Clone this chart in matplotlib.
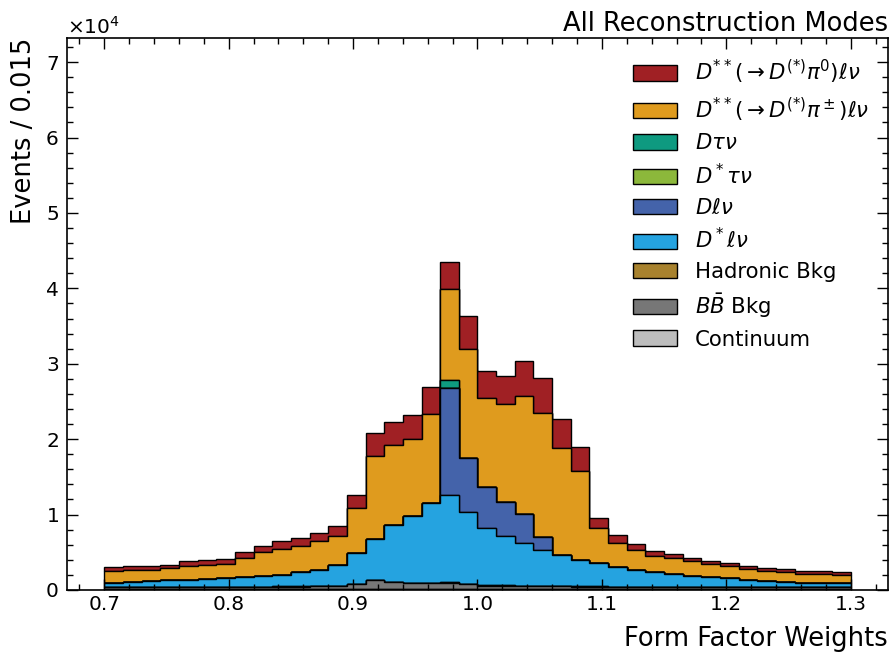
import numpy as np
import matplotlib
matplotlib.use("Agg")
import matplotlib.pyplot as plt
from matplotlib.ticker import MultipleLocator
from matplotlib.patches import Patch

# binning: 40 bins of width 0.015 from 0.7 to 1.3
edges = np.linspace(0.7, 1.3, 41)
centers = 0.5 * (edges[:-1] + edges[1:])

# events per bin for each component (bottom of the stack first)
continuum = [110, 110, 115, 115, 120, 120, 120, 125, 125, 130, 130, 135, 140, 160, 190, 170, 160, 160, 160, 150,
             140, 140, 135, 130, 130, 125, 125, 120, 120, 120, 120, 115, 115, 115, 110, 110, 110, 110, 105, 105]
bb_bkg = [260, 260, 275, 275, 280, 280, 290, 295, 295, 310, 320, 335, 355, 635, 1120, 880, 765, 765, 795, 650,
          445, 445, 405, 370, 340, 325, 315, 310, 300, 300, 290, 295, 285, 275, 280, 270, 270, 260, 265, 265]
hadronic = [30, 30, 30, 30, 30, 30, 30, 30, 30, 30, 30, 30, 35, 45, 60, 50, 45, 45, 45, 40,
            35, 35, 30, 30, 30, 30, 30, 30, 30, 30, 30, 30, 30, 30, 30, 30, 30, 30, 30, 30]
dstar_lnu = [530, 700, 730, 860, 870, 1030, 1110, 1230, 1450, 1560, 1860, 2150, 2830, 4020, 5430, 7470, 8870, 10510, 11540, 9490,
             7550, 6570, 5700, 4770, 4200, 3490, 3060, 2590, 2240, 1890, 1680, 1460, 1250, 1130, 900, 780, 690, 570, 570, 480]
d_lnu = [0, 0, 0, 0, 0, 0, 0, 0, 0, 0, 0, 0, 0, 0, 0, 0, 0, 0, 14210, 7150,
         5470, 4470, 3800, 1760, 0, 0, 0, 0, 0, 0, 0, 0, 0, 0, 0, 0, 0, 0, 0, 0]
dstar_taunu = [0] * 40
d_taunu = [0, 0, 0, 0, 0, 0, 0, 0, 0, 0, 0, 0, 0, 0, 0, 0, 0, 0, 1150, 0,
           0, 0, 0, 0, 0, 0, 0, 0, 0, 0, 0, 0, 0, 0, 0, 0, 0, 0, 0, 0]
dss_pipm = [1630, 1500, 1500, 1590, 1920, 1890, 1940, 2520, 3100, 3400, 3490, 3840, 3840, 6000, 10990, 10640, 10200, 11920, 12010, 14530,
            11880, 12980, 15710, 16430, 14110, 11840, 4640, 3220, 2560, 2210, 2080, 1900, 1720, 1670, 1420, 1370, 1280, 1190, 1150, 1150]
dss_pi0 = [530, 520, 530, 400, 670, 670, 620, 880, 870, 1100, 1100, 1060, 1320, 1720, 3090, 3040, 3230, 3550, 3530, 4370,
           3530, 3790, 4600, 4680, 3930, 3130, 1410, 970, 840, 570, 570, 480, 420, 400, 480, 400, 360, 360, 400, 310]

components = [continuum, bb_bkg, hadronic, dstar_lnu, d_lnu, dstar_taunu, d_taunu, dss_pipm, dss_pi0]
labels = ['Continuum', r'$B\bar{B}$ Bkg', 'Hadronic Bkg', r'$D^*\ell\nu$', r'$D\ell\nu$',
          r'$D^*\tau\nu$', r'$D\tau\nu$',
          r'$D^{**}(\rightarrow D^{(*)}\pi^\pm)\ell\nu$', r'$D^{**}(\rightarrow D^{(*)}\pi^0)\ell\nu$']
colors = ['#bdbdbd', '#777777', '#a8822e', '#25a3e0', '#4463aa',
          '#8cb83b', '#0e9a80', '#df9b1e', '#a02024']

fig = plt.figure(figsize=(8.91, 6.53), dpi=100)
ax = fig.add_axes([0.0752, 0.0965, 0.9214, 0.8453])

ax.hist([centers] * len(components), bins=edges, weights=components, stacked=True,
        histtype='stepfilled', color=colors, edgecolor='black', linewidth=1.0)

ax.set_xlim(0.67, 1.33)
ax.set_ylim(0, 73200)
ax.xaxis.set_major_locator(MultipleLocator(0.1))
ax.xaxis.set_minor_locator(MultipleLocator(0.02))
ax.yaxis.set_major_locator(MultipleLocator(10000))
ax.yaxis.set_minor_locator(MultipleLocator(2000))
ax.ticklabel_format(style='sci', axis='y', scilimits=(0, 0), useMathText=True)
ax.yaxis.get_offset_text().set_fontsize(14.5)

ax.tick_params(which='both', direction='in', top=True, right=True, labelsize=14.5)
ax.tick_params(which='major', length=8, width=1)
ax.tick_params(which='minor', length=4, width=1)
ax.tick_params(axis='y', which='major', pad=6)
for s in ax.spines.values():
    s.set_linewidth(1.2)

ax.set_xlabel('Form Factor Weights', fontsize=18.5, loc='right', labelpad=9)
ax.set_ylabel('Events / 0.015', fontsize=18.5, loc='top', labelpad=6)
ax.set_title('All Reconstruction Modes', fontsize=18.5, loc='right', pad=5)

# legend, top of the stack listed first
handles = [Patch(facecolor=c, edgecolor='black', linewidth=1.0) for c in colors]
ax.legend(handles[::-1], labels[::-1], loc='upper right', frameon=False, fontsize=15.3,
          handlelength=2.07, handleheight=0.73, handletextpad=0.85, labelspacing=0.45,
          bbox_to_anchor=(1.0005, 0.9985))

fig.savefig('out.png', dpi=100)
